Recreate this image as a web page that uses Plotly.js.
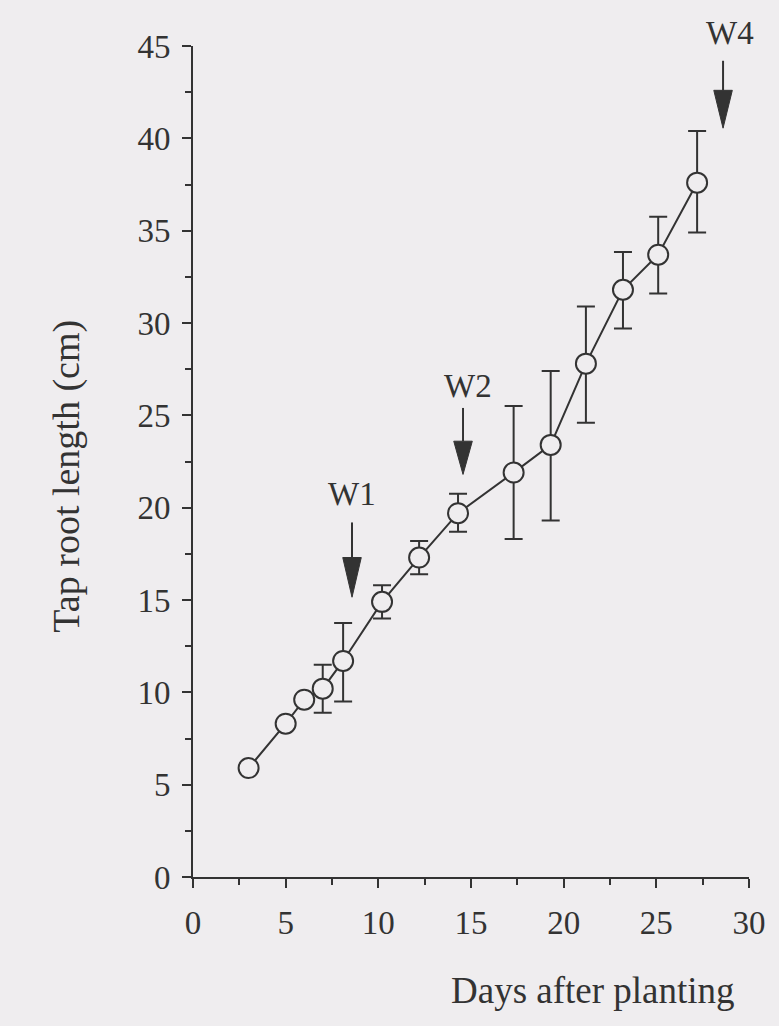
<!DOCTYPE html>
<html>
<head>
<meta charset="utf-8">
<script src="https://cdn.plot.ly/plotly-3.0.1.min.js"></script>
<style>
html,body{margin:0;padding:0;background:#efedef;}
#chart{width:779px;height:1026px;}
</style>
</head>
<body>
<div id="chart"></div>
<script>
// Data
const days = [3, 5, 6, 7, 8.1, 10.2, 12.2, 14.3, 17.3, 19.3, 21.2, 23.2, 25.1, 27.2];
const tapRoot = [5.9, 8.3, 9.6, 10.2, 11.7, 14.9, 17.3, 19.7, 21.9, 23.4, 27.8, 31.8, 33.7, 37.6];
const errPlus = [0, 0, 0, 1.3, 2.05, 0.9, 0.9, 1.05, 3.6, 4.0, 3.1, 2.05, 2.05, 2.8];
const errMinus = [0, 0, 0, 1.3, 2.2, 0.9, 0.9, 1.0, 3.6, 4.1, 3.2, 2.1, 2.1, 2.7];
const xTicks = [0, 5, 10, 15, 20, 25, 30];
const yTicks = [0, 5, 10, 15, 20, 25, 30, 35, 40, 45];
const xRange = [0, 30];
const yRange = [0, 45];

// Watering arrows
const arrowLabels = ['W1', 'W2', 'W4'];
const arrowX = [8.58, 14.57, 28.6];
const arrowTail = [19.2, 25.4, 44.2];
const arrowHeadStart = [17.3, 23.6, 42.6];
const arrowTip = [15.15, 21.8, 40.55];
const labelX = [8.6, 14.85, 28.95];
const labelY = [20.75, 26.6, 45.7];

const ink = '#333333';
const bg = '#efedef';
const headHalf = 0.5;

const shapes = [];
arrowX.forEach((x, i) => {
  shapes.push({type: 'line', xref: 'x', yref: 'y', x0: x, x1: x, y0: arrowTail[i], y1: arrowHeadStart[i],
    line: {color: ink, width: 2}});
  shapes.push({type: 'path', xref: 'x', yref: 'y',
    path: 'M' + (x - headHalf) + ',' + arrowHeadStart[i] + ' L' + (x + headHalf) + ',' + arrowHeadStart[i] +
          ' L' + x + ',' + arrowTip[i] + ' Z',
    fillcolor: ink, line: {color: ink, width: 1}});
});

const annotations = arrowLabels.map((t, i) => ({
  text: t, x: labelX[i], y: (labelY[i] - yRange[0]) / (yRange[1] - yRange[0]), xref: 'x', yref: 'paper', showarrow: false,
  font: {family: 'Liberation Serif', size: 33, color: ink}, xanchor: 'center', yanchor: 'middle'
}));
annotations.push({text: 'Days after planting', xref: 'paper', yref: 'paper', x: 0.72, y: -0.136,
  showarrow: false, font: {family: 'Liberation Serif', size: 37, color: ink}, xanchor: 'center', yanchor: 'middle'});
annotations.push({text: 'Tap root length (cm)', xref: 'paper', yref: 'paper', x: -0.228, y: 0.482,
  showarrow: false, textangle: -90, font: {family: 'Liberation Serif', size: 38, color: ink}, xanchor: 'center', yanchor: 'middle'});

const trace = {
  x: days, y: tapRoot, type: 'scatter', mode: 'lines+markers',
  line: {color: ink, width: 2},
  marker: {symbol: 'circle', size: 20, color: bg, line: {color: ink, width: 2}},
  error_y: {type: 'data', symmetric: false, array: errPlus, arrayminus: errMinus,
    color: ink, thickness: 2, width: 9},
  cliponaxis: false
};

const layout = {
  width: 779, height: 1026,
  paper_bgcolor: bg, plot_bgcolor: bg,
  margin: {l: 193, r: 30, t: 46, b: 149},
  showlegend: false,
  font: {family: 'Liberation Serif', color: ink, size: 33},
  xaxis: {
    range: xRange, tickvals: xTicks, ticktext: xTicks.map(String),
    showgrid: false, zeroline: false, showline: true, linecolor: ink, linewidth: 2,
    ticks: 'outside', ticklen: 9, tickwidth: 2, tickcolor: ink, ticklabelstandoff: 6,
    minor: {tickvals: [2.5, 7.5, 12.5, 17.5, 22.5, 27.5], ticks: 'outside', ticklen: 6, tickwidth: 2, tickcolor: ink},
    tickfont: {family: 'Liberation Serif', size: 33, color: ink}
  },
  yaxis: {
    range: yRange, tickvals: yTicks, ticktext: yTicks.map(String),
    showgrid: false, zeroline: false, showline: true, linecolor: ink, linewidth: 2,
    ticks: 'outside', ticklen: 9, tickwidth: 2, tickcolor: ink, ticklabelstandoff: 5,
    minor: {tickvals: [2.5, 7.5, 12.5, 17.5, 22.5, 27.5, 32.5, 37.5, 42.5], ticks: 'outside', ticklen: 6, tickwidth: 2, tickcolor: ink},
    tickfont: {family: 'Liberation Serif', size: 33, color: ink}
  },
  shapes: shapes,
  annotations: annotations
};

Plotly.newPlot('chart', [trace], layout, {displayModeBar: false, staticPlot: true});
</script>
</body>
</html>
